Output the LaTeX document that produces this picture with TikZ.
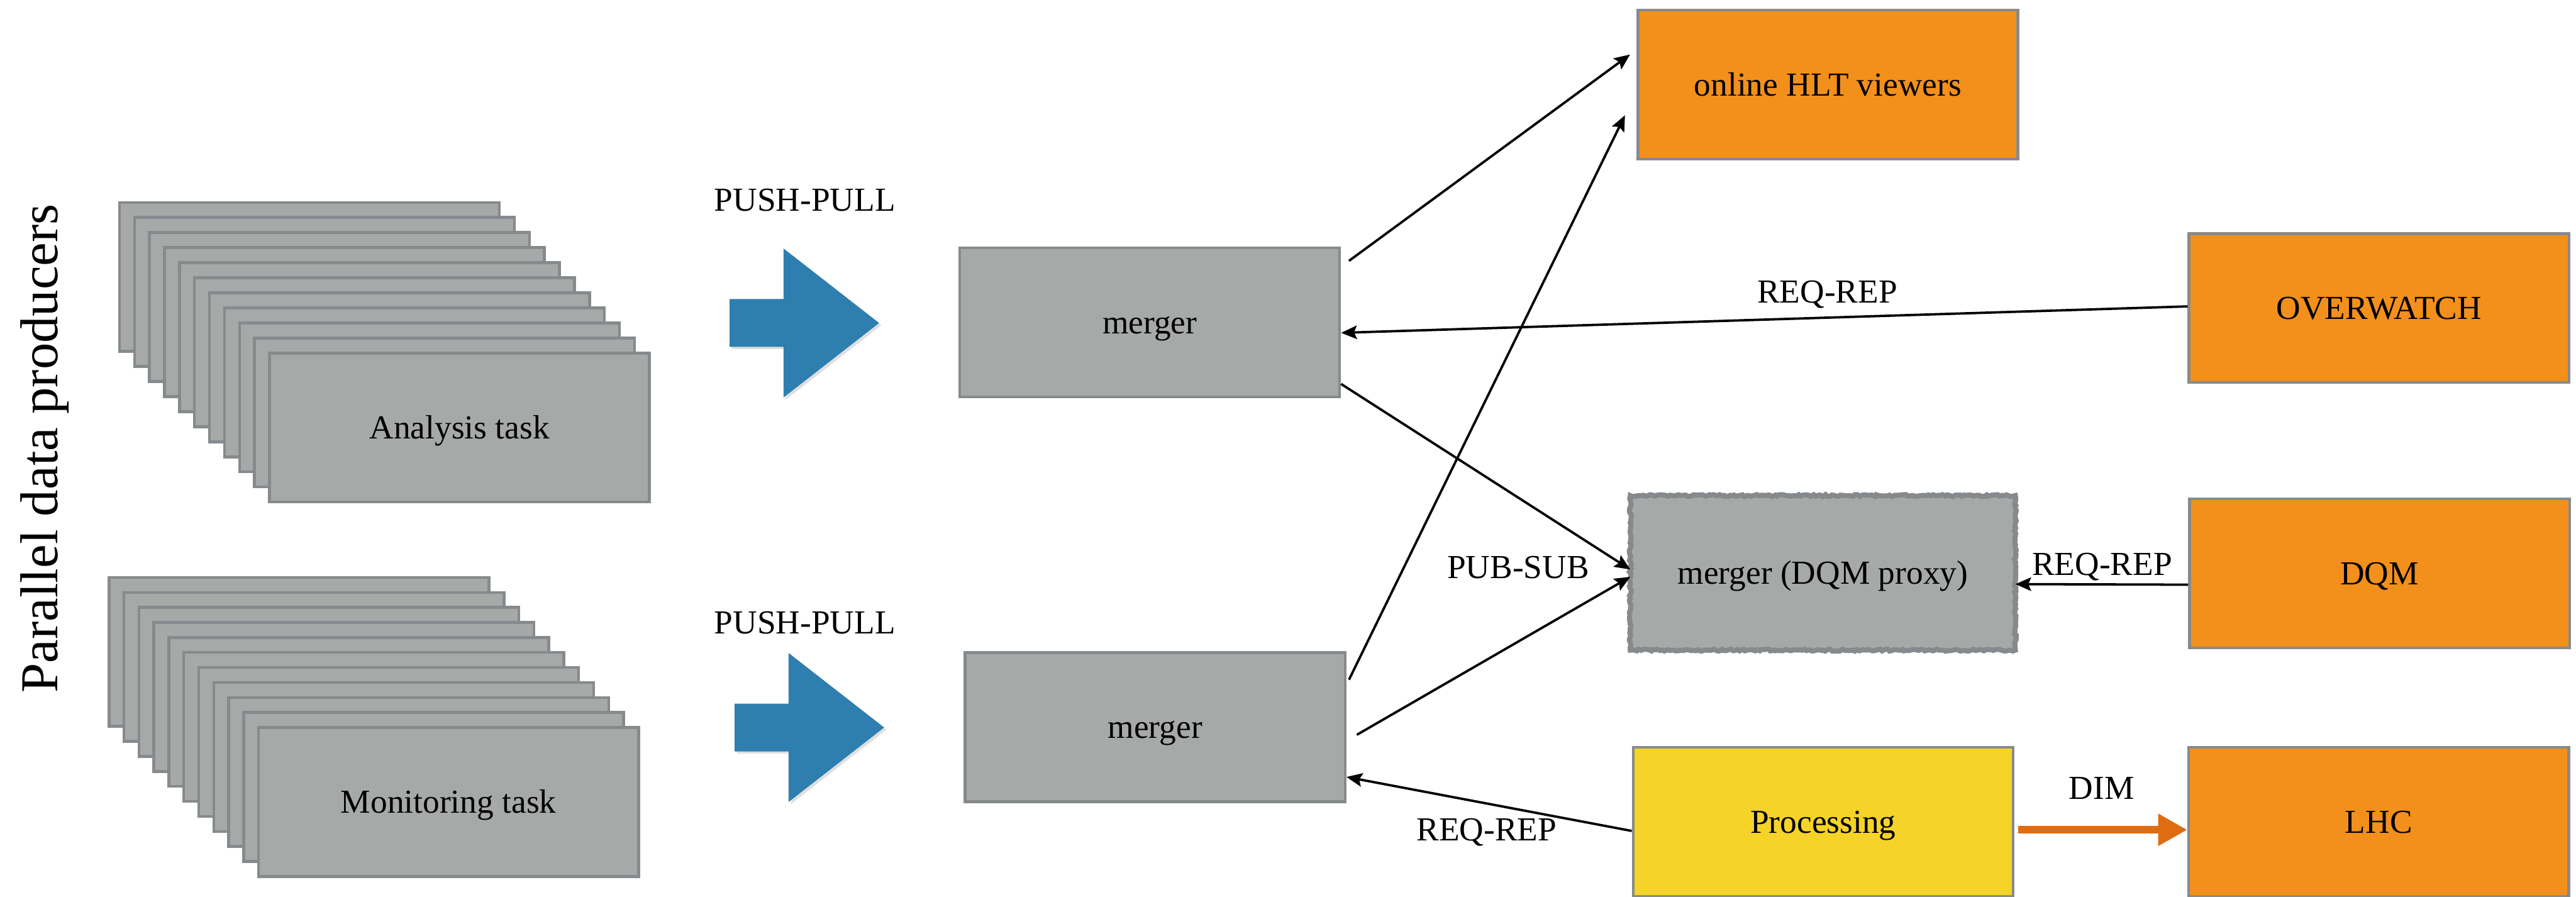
\documentclass[tikz,border=0pt]{standalone}
\usepackage{fontspec}
\setmainfont{Liberation Serif}
\usetikzlibrary{arrows.meta,decorations.pathmorphing,shadows}
\definecolor{boxgray}{RGB}{166,169,168}
\definecolor{edgegray}{RGB}{135,138,141}
\definecolor{clientorange}{RGB}{242,144,27}
\definecolor{procyellow}{RGB}{245,211,40}
\definecolor{pushblue}{RGB}{46,126,176}
\definecolor{dimorange}{RGB}{224,108,18}

\begin{document}
\begin{tikzpicture}[
  every node/.style={font=\fontsize{17}{20}\selectfont},
  taskbox/.style={draw=edgegray, fill=boxgray, line width=0.05cm,
    minimum width=6.76cm, minimum height=2.65cm,
    text height=0.4cm, text depth=0pt},
  clientbox/.style={taskbox, fill=clientorange},
  procbox/.style={taskbox, fill=procyellow},
  proto/.style={anchor=base},
  link/.style={line width=1.2pt,
    -{Stealth[length=0.28cm, width=0.24cm, inset=0.05cm]}},
  dimlink/.style={dimorange, line width=0.13cm,
    -{Triangle[length=0.52cm, width=0.54cm]}}
]
  \useasboundingbox (0,0) rectangle (45.83,-15.95);
  \pgfmathsetseed{7}

  \node[rotate=90, anchor=base, font=\fontsize{27}{32}\selectfont] (producers) %
    at (1.02,-7.975) {Parallel data producers};

  % stacks of producers
  \foreach \i in {0,...,9}
    \node[taskbox] (ana\i) at ({5.505+0.267*\i},{-4.925-0.268*\i}) {};
  \node[taskbox] (analysis) at (8.175,-7.605) {Analysis task};
  \foreach \i in {0,...,9}
    \node[taskbox] (mon\i) at ({5.32+0.266*\i},{-11.595-0.267*\i}) {};
  \node[taskbox] (monitoring) at (7.98,-14.265) {Monitoring task};

  % push-pull arrows
  \foreach \x/\y in {12.98/-5.745, 13.07/-12.94}
    \fill[pushblue, drop shadow={shadow xshift=0.04cm, shadow yshift=-0.04cm, opacity=0.25}] %
      (\x,\y) ++(0,0.425) -- ++(0.96,0) -- ++(0,0.9) -- ++(1.70,-1.325) %
      -- ++(-1.70,-1.325) -- ++(0,0.9) -- ++(-0.96,0) -- cycle;
  \node[proto] (push1) at (14.32,-3.75) {PUSH-PULL};
  \node[proto] (push2) at (14.32,-11.27) {PUSH-PULL};

  \node[taskbox] (merger1) at (20.455,-5.735) {merger};
  \node[taskbox] (merger2) at (20.55,-12.935) {merger};

  \node[taskbox, draw=none, minimum width=6.80cm, minimum height=2.70cm] (proxy) %
    at (32.43,-10.19) {merger (DQM proxy)};
  \draw[edgegray, line width=0.09cm, decorate, %
    decoration={random steps, segment length=1.2pt, amplitude=0.5pt}] %
    (proxy.south west) rectangle (proxy.north east);

  \node[clientbox] (hlt) at (32.52,-1.505) {online HLT viewers};
  \node[clientbox] (overwatch) at (42.325,-5.48) {OVERWATCH};
  \node[clientbox] (dqm) at (42.335,-10.20) {DQM};
  \node[clientbox] (lhc) at (42.32,-14.62) {LHC};
  \node[procbox] (processing) at (32.435,-14.62) {Processing};

  % connections
  \draw[link] ([xshift=0.14cm, yshift=-0.255cm]merger1.north east) %
    -- ([xshift=-0.115cm, yshift=0.535cm]hlt.west);
  \draw[link] ([xshift=0.045cm, yshift=-0.505cm]merger2.north east) %
    -- ([xshift=-0.205cm, yshift=-0.545cm]hlt.west);
  \draw[link] ([yshift=0.03cm]overwatch.west) -- ([yshift=-0.185cm]merger1.east);
  \draw[link] ([yshift=-1.095cm]merger1.east) -- ([yshift=0.06cm]proxy.west);
  \draw[link] ([xshift=0.185cm, yshift=-0.135cm]merger2.east) %
    -- ([yshift=-0.07cm]proxy.west);
  \draw[link] ([yshift=-0.20cm]dqm.west) -- ([yshift=-0.20cm]proxy.east);
  \draw[link] ([yshift=-0.16cm]processing.west) -- ([yshift=-0.885cm]merger2.east);
  \draw[dimlink] ([xshift=0.06cm, yshift=-0.14cm]processing.east) %
    -- ([yshift=-0.14cm]lhc.west);

  \node[proto] (reqrep1) at (32.51,-5.39) {REQ-REP};
  \node[proto] (reqrep2) at (37.40,-10.23) {REQ-REP};
  \node[proto] (reqrep3) at (26.45,-14.95) {REQ-REP};
  \node[proto] (pubsub) at (27.01,-10.29) {PUB-SUB};
  \node[proto] (dim) at (37.39,-14.21) {DIM};
\end{tikzpicture}
\end{document}
